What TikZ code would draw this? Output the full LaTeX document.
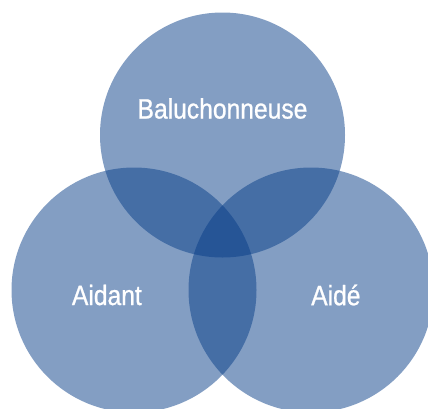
\documentclass[tikz,border=0pt]{standalone}
\usepackage{fontspec}
\newfontfamily\narrowfont[FakeStretch=0.88, FakeBold=0.8]{Liberation Sans}
\usetikzlibrary{positioning}
\definecolor{vennblue}{RGB}{8,62,136}
\tikzstyle{venn} = [circle, fill=vennblue, fill opacity=0.5, draw=none, minimum size=245pt, inner sep=0pt]
\tikzstyle{vlabel} = [text=white, font=\narrowfont\fontsize{28}{30}\selectfont, inner sep=0pt]

\begin{document}
\begin{tikzpicture}[x=1pt, y=-1pt]
			\useasboundingbox (0,0) rectangle (428,408);
			\clip (0,0) rectangle (428,408);
			\node [venn] (top) at (222.5,135) {};
			\node [venn] (left) at (134,290) {};
			\node [venn] (right) at (311,290) {};
			
			\node [vlabel, above=16pt of top.center] (baluch) {Baluchonneuse};
			\node [vlabel, left=-8pt of left.center, yshift=-5pt] (aidant) {Aidant};
			\node [vlabel, right=0pt of right.center, yshift=-5pt] (aide) {Aidé};
		\end{tikzpicture}
\end{document}
